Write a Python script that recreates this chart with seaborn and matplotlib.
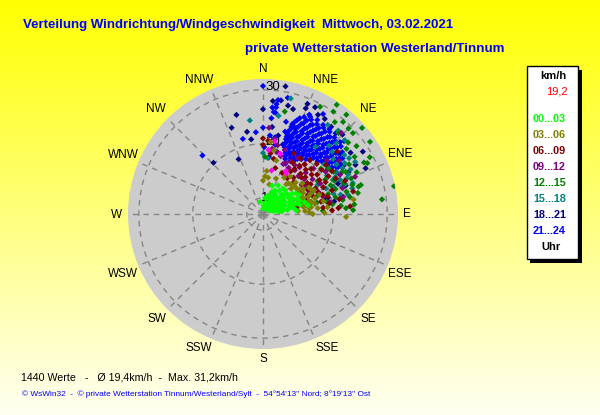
import numpy as np
import pandas as pd
import matplotlib
matplotlib.use("Agg")
import matplotlib.pyplot as plt
from matplotlib.patches import Rectangle
from matplotlib.transforms import Affine2D
import seaborn as sns

periods = ["00...03", "03...06", "06...09", "09...12", "12...15", "15...18", "18...21", "21...24"]
colors = ["#00FF00", "#808000", "#800000", "#800080", "#008000", "#008080", "#000080", "#0000FF"]
directions = ["N", "NNE", "NE", "ENE", "E", "ESE", "SE", "SSE", "S", "SSW", "SW", "WSW", "W", "WNW", "NW", "NNW"]
ring_values = [10, 20, 30]

# (direction in degrees, speed in km/h)
pts_00_03 = [(2,8),(10,8.5),(346,9.3),(20,10.7),(8,10),(15,9.2),(25,8.8),(30,9.6),(35,8.6),(40,9.2),(45,8.4),(50,9),
 (55,8.5),(60,9),(65,8.4),(70,8.8),(30,10.4),(38,10.2),(45,10),(52,10),(60,9.8),(68,9.6),(75,9.2),(22,11.4),(32,11.3),
 (40,11),(48,10.9),(56,10.8),(64,10.6),(72,10.2),(80,9.8),(35,12.2),(44,12),(52,11.8),(60,11.6),(68,11.3),(76,11),
 (83,10.5),(42,13),(50,12.8),(58,12.6),(66,12.3),(74,12),(81,11.6),(55,13.6),(64,13.3),(72,13),(79,12.8),(62,14.6),
 (70,14.2),(76,14),(79,15.5),(74,15),(28,13),(18,12.5),(84,13.2),(5,8.6),(20,8.2),(14,10.4),(26,10),(33,9),(42,8.2),
 (48,9.6),(57,9.4),(63,9.2),(72,9.6),(78,10.4),(27,11.9),(36,11),(46,11.6),(54,11.2),(62,11),(70,10.8),(38,13),(48,12.2),
 (56,13),(62,12.8),(70,12.6),(77,12.4),(66,14),(73,13.6),(58,14.2)]
pts_03_06 = [(3,14),(0,13.2),(8,13.8),(12,12.6),(5,15),(20,14),(40,14.4),(48,14),(55,14.8),(62,15.4),(68,15),(74,15.8),
 (80,14.6),(85,13.5),(88,15.6),(52,16.2),(60,16.8),(67,16.6),(73,17),(79,16.8),(84,17.2),(90,16.2),(46,15.4),(36,15.6),
 (65,17.4),(71,18),(78,18.4),(84,19),(89,18.4),(92,22.4),(81,24),(6,20.4),(10,19),(14,17.2),(58,15.8),(64,14.6),(70,14.8),
 (76,14.8),(82,15.6),(86,14.8),(82,16),(76,16.2),(69,16),(62,17),(56,15.2),(50,14.8),(44,14.6),(38,14),(30,14.8)]
pts_06_09 = [(0,21),(0,19.8),(4,20.6),(7,18.3),(11,17.4),(15,15.8),(25,15.4),(33,16.4),(40,15.8),(46,16.8),(53,16),(60,15),
 (66,14.6),(72,14),(78,13.6),(30,18),(37,18.2),(44,18.4),(51,18.6),(58,17.4),(64,17.8),(70,16.8),(76,16.2),(82,15.6),
 (27,19.6),(34,19.4),(41,20.2),(47,20.6),(54,19.4),(60,21),(66,19.2),(72,18.6),(78,18),(84,18.2),(87,19.8),
 (52,21.8),(58,22),(64,22),(71,20.5),(79,21.4),(85.5,21),(50,25),(68,23.4),(85,23.2),(76,24.2),(43,17.2),(49,17.4),(55,17),
 (61,16.4),(67,16),(73,15.4),(35,17.2),(40,19),(47,19.2),(53,20.6),(59,19.2),(63,20),(69,18),(75,19.4),(81,19.4),(34,15),(44,15.2)]
pts_09_12 = [(4,23),(9,21),(12,20),(8,19.2),(13,18.8),(17,18.2),(19,19.6),(24,17.4),(29,16.8),(36,17),(43,16.6),(50,17),
 (57,16.4),(63,16.6),(32,19.2),(40,19),(48,19.6),(55,18.2),(62,19),(68,18),(74,18.6),(80,19.6),
 (50,22.4),(56,21),(63,23),(78,22.2),(44,27.9),(55,24.2),(68,25.4),(72,22.5),(28,18),(38,18),(46,18),(22,17),(33,17.8)]
pts_12_15 = [(12,26.4),(34,31.4),(40,31),(34.5,30),(41,29.6),(49,31.3),(45,29.4),(48,29.4),(56,30.9),(62,29.4),(64,28.5),
 (63,28),(73.5,25.9),(77.5,25),(78,31.8),(83,29.2),(87.5,23.7),(87,18.1),(2,17.6),(28,29.5),(38,28.6),
 (43,27.5),(50,27.6),(54,28.4),(58,27),(52,26.6),(60,25.4),(66,26),(72,24.4),(79,23.4),(84,24),(84,21.5),
 (63,24.2),(69,23),(75,23),(80,22),(61,20.2),(67,20.6),(73,19.6),(79,19),(59,22.2),(65,21.6),(71,21.2),(77,20.8),(55,21.6),
 (59,18.8),(65,16.8),(72,17.4),(78,17.2),(62,23.6),(68,24.6),(74,25.4),(82,20),(86,22.4),(52,20.6)]
pts_15_18 = [(13.5,29),(9,25.4),(352,24.5),(5,17.4),(0,18.3),(60.5,26.6),(48,27.4),(77,23.1),(46,25.9),(57,26),(71,24.6),(74,24.2),
 (54,25.6),(58,24.8),(63,25.2),(67,23.8),(52,23.5),
 (56,23.4),(61,22.6),(66,22.6),(71,22.4),(76,21.8),(51,21.6),(55,21.8),(59,20.8),
 (64,21.4),(69,21),(74,20.6),(62,18.4),(68,19.6),(48,24.2),(60,24),(65,24.4),(70,23.2),(42,27.8),(36,27.4),(63,22),(44,24.6),(38,22.8)]
pts_18_21 = [(316,20.2),(336,18.1),(345,26),(340,24),(349,22.5),(351,21),(0,26.4),(5,28),(10,31),(9,28.3),(13,27.6),(16,27.2),
 (22,29),(26,29),(29,28),(22,28.1),(11,21.8),(6,23.2),(58,28.8),(76,18.9),(66,27.8),(38,27.5),(33,28),(48,27.2),
 (45,27.8),(55,26.8),(62,26.4),(59,24.4),(64,24.6),(71,23.2),(80,20.4),(68,22),(76,19.4),(20,24),(18,22),(16,20.4),(52,25.2)]
pts_21_24 = [(0,30.7),(314,22.6),(345,21.4),(355,22.2),(0,23),(5,26.8),(6,26),(5,24.8),(5,21.6),(12,29),(7.5,28.3),(7,27.5),(7,26.9),(7,25.9),
 (31,28.6),(25,27.3),(1,19.4),(6,17.6),(9,21.4),(10,20),(12,18.8),(15,22.8),(14,24.6),
 (26,27),(30,27.1),(34,26.9),(38,27),(42,27.1),
 (23,26.5),(27,26.6),(31,26.4),(35,26.5),(39,26.6),(43,26.4),(47,26.5),
 (21,26),(25,26.1),(29,25.9),(33,26),(37,26.1),(41,25.9),(45,26),(49,26.1),
 (20,25.5),(24,25.4),(28,25.6),(32,25.5),(36,25.4),(40,25.6),(44,25.5),(48,25.4),(52,25.6),
 (19,25),(23,25.1),(27,24.9),(31,25),(35,25.1),(39,24.9),(43,25),(47,25.1),(51,24.9),(55,25),
 (18,24.5),(22,24.4),(26,24.6),(30,24.5),(34,24.4),(38,24.6),(42,24.5),(46,24.4),(50,24.6),(54,24.5),
 (18,24),(21,24.1),(25,23.9),(29,24),(33,24.1),(37,23.9),(41,24),(45,24.1),(49,23.9),(53,24),(57,24.1),
 (18,23.5),(22,23.4),(26,23.6),(30,23.5),(34,23.4),(38,23.6),(42,23.5),(46,23.4),(50,23.6),(54,23.5),(58,23.4),
 (17,23),(21,23.1),(25,22.9),(29,23),(33,23.1),(37,22.9),(41,23),(45,23.1),(49,22.9),(53,23),(57,23.1),
 (17,22.5),(20,22.4),(24,22.6),(28,22.5),(32,22.4),(36,22.6),(40,22.5),(44,22.4),(48,22.6),(52,22.5),(56,22.4),(60,22.6),
 (17,22),(21,22.1),(25,21.9),(29,22),(33,22.1),(37,21.9),(41,22),(45,22.1),(49,21.9),(53,22),
 (17,21.5),(20,21.4),(24,21.6),(28,21.5),(32,21.4),(36,21.6),(40,21.5),(44,21.4),(48,21.6),
 (18,21),(22,21.1),(26,20.9),(30,21),(34,21.1),(38,20.9),(42,21),(46,21.1),
 (17,20.5),(21,20.4),(25,20.6),(29,20.5),(33,20.4),(37,20.6),(41,20.5),
 (18,20),(22,20.1),(26,19.9),(30,20),(34,20.1),(38,19.9),
 (19,19.5),(23,19.4),(27,19.6),(31,19.5),(35,19.4),
 (20,19),(24,19.1),(28,18.9),(32,19),(21,18.5),(26,18.6),(30,18.4),(22,18),(27,18.1),(24,17.2)]
pts_current = [(5,18.9),(11,15.2),(28,16),(30,15.6),(16,18.6),(9,20.6)]
all_points = [pts_00_03, pts_03_06, pts_06_09, pts_09_12, pts_12_15, pts_15_18, pts_18_21, pts_21_24]

frames = [pd.DataFrame(p, columns=["deg", "speed"]).assign(period=n) for p, n in zip(all_points, periods)]
frames.append(pd.DataFrame(pts_current, columns=["deg", "speed"]).assign(period="now"))
# paint order that the overlaps in the picture show
order = [6, 7, 5, 4, 3, 2, 8, 1, 0]
df = pd.concat([frames[i] for i in order], ignore_index=True)
df["theta"] = np.deg2rad(df["deg"])
palette = dict(zip(periods, colors))
palette["now"] = "#FF00FF"

W, H = 600, 415
sns.set_theme(style="white")
plt.rcParams["font.family"] = ["Liberation Sans", "DejaVu Sans"]
fig = plt.figure(figsize=(W / 100, H / 100), dpi=100)
px = Affine2D().scale(1 / W, -1 / H).translate(0, 1) + fig.transFigure

bg = fig.add_axes([0, 0, 1, 1], zorder=0)
ramp = np.linspace(0, 1, 256).reshape(-1, 1)
rgb = np.dstack([np.ones_like(ramp), np.ones_like(ramp), 0.95 * ramp])
bg.imshow(rgb, aspect="auto", extent=[0, 1, 0, 1])
bg.axis("off")

cx, cy, R = 263, 214, 135
ax = fig.add_axes([(cx - R) / W, (H - cy - R) / H, 2 * R / W, 2 * R / H], projection="polar", zorder=1)
ax.set_facecolor("#CCCCCC")
ax.set_theta_zero_location("N")
ax.set_theta_direction(-1)
for r, t in zip(ring_values, [(268, 198), (273, 142), (273, 87)]):
    ax.text(t[0], t[1], str(r), transform=px, ha="center", va="center", fontsize=9.5, color="black",
            family="Liberation Sans", zorder=1.5)
sns.scatterplot(data=df, x="theta", y="speed", hue="period", palette=palette, marker="D", s=10, linewidth=0,
                legend=False, ax=ax, zorder=3)
ax.set_rlim(7, 32)
ax.set_rticks(ring_values)
ax.set_yticklabels([])
ax.set_thetagrids(np.arange(16) * 22.5, [""] * 16)
ax.grid(True, color="#858585", linestyle=(0, (4, 3.5)), linewidth=1.0)
ax.spines["polar"].set_visible(False)
ax.set_xlabel("")
ax.set_ylabel("")
ax.tick_params(pad=0)

label_px = [(263, 69), (326, 80), (368, 109), (400, 154), (407, 214), (400, 274), (368, 319), (327, 348),
            (263, 359), (199, 348), (157, 319), (123, 274), (117, 215), (123, 155), (156, 109), (199, 80)]
for name, (x, y) in zip(directions, label_px):
    fig.text(x, y, name, transform=px, ha="center", va="center", fontsize=8.5, color="black", zorder=5)

def put(x, y, s, color="black", size=8, weight="normal", ha="left"):
    fig.text(x, y, s, transform=px, ha=ha, va="center", fontsize=size, color=color, fontweight=weight, zorder=6)

put(23, 25, "Verteilung Windrichtung/Windgeschwindigkeit  Mittwoch, 03.02.2021", "#0000FF", 9.53, "bold")
put(245, 49, "private Wetterstation Westerland/Tinnum", "#0000FF", 9.6, "bold")

fig.add_artist(Rectangle((530, 70), 52, 193, transform=px, facecolor="black", edgecolor="none", zorder=5))
fig.add_artist(Rectangle((526.5, 66.5), 51, 192.5, transform=px, facecolor="white", edgecolor="black", linewidth=1, zorder=5))
put(540, 76, "km/h", weight="bold", size=8)
put(568, 92, "19,2", "#FF0000", 8, ha="right")
for i, (n, c) in enumerate(zip(periods, colors)):
    put(533, 119 + 16 * i, n, c, 7.8, "bold")
put(551, 247, "Uhr", weight="bold", size=8, ha="center")

put(21, 377, "1440 Werte   -   Ø 19,4km/h  -  Max. 31,2km/h", size=7.65)
put(22, 394, "© WsWin32  -  © private Wetterstation Tinnum/Westerland/Sylt  -  54°54'13'' Nord; 8°19'13'' Ost", "#0000FF", 5.95)

fig.savefig("out.png", dpi=100)
